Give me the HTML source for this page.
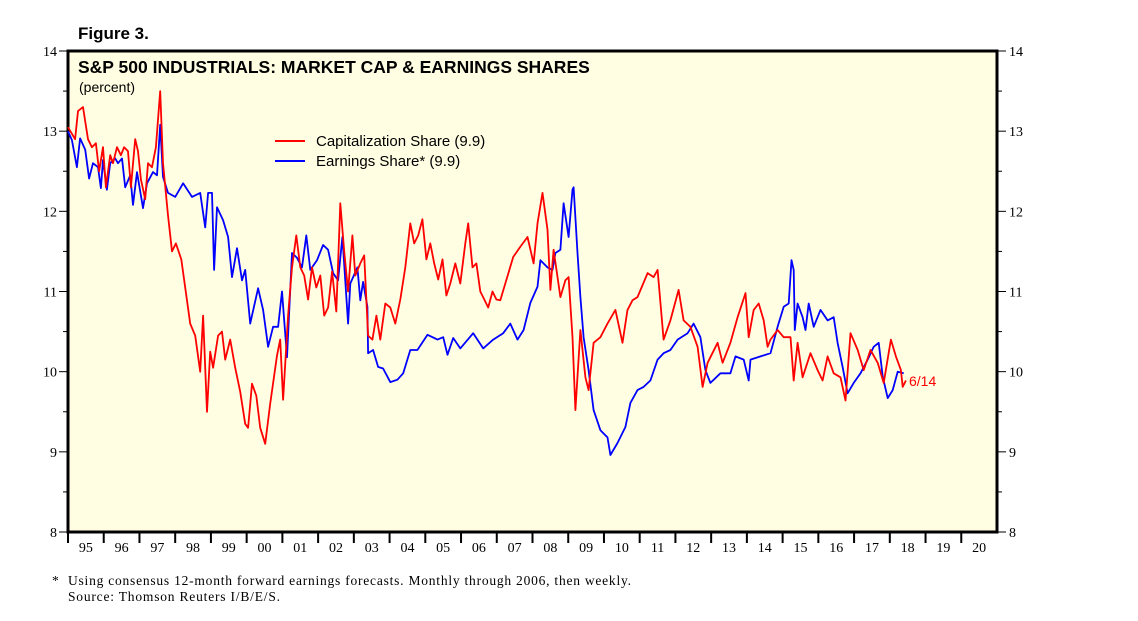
<!DOCTYPE html>
<html><head><meta charset="utf-8"><style>
body{margin:0;background:#fff;width:1138px;height:621px;overflow:hidden}
svg{display:block}
</style></head><body>
<svg id="chart" width="1138" height="621" xmlns="http://www.w3.org/2000/svg">
<text x="78" y="39" font-family="Liberation Sans, sans-serif" font-weight="bold" font-size="17">Figure 3.</text>
<rect x="68" y="51" width="929" height="481" fill="#fffee3" stroke="#000" stroke-width="3"/>
<text x="78" y="73" font-family="Liberation Sans, sans-serif" font-weight="bold" font-size="17.5">S&amp;P 500 INDUSTRIALS: MARKET CAP &amp; EARNINGS SHARES</text>
<text x="79" y="92" font-family="Liberation Sans, sans-serif" font-size="14">(percent)</text>
<g>
<line x1="275" y1="141" x2="305" y2="141" stroke="#f00" stroke-width="2"/>
<text x="316" y="146" font-family="Liberation Sans, sans-serif" font-size="15">Capitalization Share (9.9)</text>
<line x1="275" y1="161" x2="305" y2="161" stroke="#00f" stroke-width="2"/>
<text x="316" y="166" font-family="Liberation Sans, sans-serif" font-size="15">Earnings Share* (9.9)</text>
</g>
<g id="axes"></g>
<g id="series"></g>
<text x="909" y="386" fill="#f00" font-family="Liberation Sans, sans-serif" font-size="14">6/14</text>
<text x="52" y="585" font-family="Liberation Serif, serif" font-size="13.5">*</text>
<text x="68" y="585" font-family="Liberation Serif, serif" font-size="13.5" textLength="563" lengthAdjust="spacing">Using consensus 12-month forward earnings forecasts. Monthly through 2006, then weekly.</text>
<text x="68" y="601" font-family="Liberation Serif, serif" font-size="13.5" textLength="212" lengthAdjust="spacing">Source: Thomson Reuters I/B/E/S.</text>
</svg>
<script>
const yTicks=[8,9,10,11,12,13,14];
const xYears=[95,96,97,98,99,"00","01","02","03","04","05","06","07","08","09",10,11,12,13,14,15,16,17,18,19,20];
const capT=[0,.20,.28,.42,.56,.67,.78,.87,.98,1.06,1.18,1.26,1.37,1.48,1.57,1.68,1.76,1.88,1.96,2.04,2.16,2.24,2.35,2.46,2.58,2.66,2.80,2.91,3.02,3.17,3.28,3.42,3.56,3.70,3.78,3.89,3.98,4.06,4.20,4.31,4.40,4.54,4.68,4.82,4.96,5.04,5.15,5.27,5.38,5.52,5.66,5.85,5.94,6.02,6.16,6.27,6.39,6.50,6.61,6.72,6.83,6.95,7.06,7.17,7.28,7.39,7.51,7.62,7.73,7.84,7.96,8.04,8.18,8.29,8.40,8.52,8.63,8.74,8.88,9.02,9.16,9.30,9.44,9.58,9.69,9.80,9.92,10.03,10.14,10.25,10.36,10.48,10.59,10.70,10.84,10.98,11.12,11.20,11.32,11.43,11.54,11.65,11.76,11.88,11.99,12.10,12.46,12.66,12.86,13.03,13.14,13.28,13.42,13.50,13.59,13.78,13.92,14.01,14.12,14.20,14.34,14.48,14.57,14.71,14.90,15.10,15.32,15.52,15.66,15.80,15.94,16.22,16.39,16.50,16.67,16.86,17.09,17.23,17.42,17.62,17.76,17.90,18.18,18.32,18.54,18.74,18.96,19.05,19.19,19.33,19.47,19.58,19.66,19.86,20.03,20.22,20.31,20.42,20.56,20.78,20.98,21.12,21.26,21.43,21.62,21.76,21.90,22.10,22.27,22.46,22.66,22.83,23.03,23.17,23.31,23.36,23.45];
const capVals=[13.05,12.9,13.25,13.3,12.9,12.8,12.85,12.5,12.8,12.3,12.7,12.6,12.8,12.7,12.8,12.75,12.3,12.9,12.75,12.4,12.15,12.6,12.55,12.8,13.5,12.6,11.95,11.5,11.6,11.4,11.05,10.6,10.45,10.0,10.7,9.5,10.25,10.05,10.45,10.5,10.15,10.4,10.05,9.75,9.35,9.3,9.85,9.7,9.3,9.1,9.6,10.2,10.4,9.65,10.7,11.3,11.7,11.3,11.2,10.9,11.3,11.05,11.2,10.7,10.8,11.25,10.75,12.1,11.5,11.0,11.7,11.2,11.35,11.45,10.45,10.4,10.7,10.4,10.85,10.8,10.6,10.9,11.3,11.85,11.6,11.7,11.9,11.4,11.6,11.35,11.15,11.4,10.95,11.1,11.35,11.1,11.6,11.85,11.3,11.35,11.0,10.9,10.8,11.0,10.9,10.89,11.43,11.56,11.68,11.35,11.85,12.23,11.77,11.02,11.52,10.93,11.14,11.18,10.43,9.52,10.52,9.93,9.77,10.36,10.43,10.6,10.77,10.36,10.77,10.89,10.93,11.23,11.18,11.27,10.4,10.64,11.02,10.64,10.56,10.31,9.81,10.11,10.36,10.11,10.36,10.68,10.98,10.43,10.77,10.85,10.64,10.31,10.4,10.52,10.43,10.43,9.89,10.36,9.93,10.23,10.02,9.89,10.19,9.98,9.93,9.64,10.48,10.27,10.02,10.27,10.11,9.86,10.4,10.19,10.02,9.81,9.89];
const earnT=[0,.11,.25,.34,.48,.59,.70,.84,.92,.98,1.09,1.18,1.32,1.40,1.51,1.60,1.74,1.82,1.93,2.10,2.21,2.38,2.49,2.58,2.66,2.80,3.00,3.22,3.47,3.70,3.84,3.92,4.03,4.09,4.17,4.34,4.48,4.59,4.73,4.87,4.96,5.10,5.32,5.46,5.60,5.74,5.88,5.99,6.13,6.27,6.41,6.55,6.67,6.78,6.97,7.14,7.28,7.42,7.56,7.68,7.84,7.90,8.10,8.18,8.26,8.38,8.40,8.54,8.68,8.82,9.02,9.22,9.38,9.58,9.78,10.06,10.34,10.50,10.62,10.78,10.98,11.34,11.62,11.90,12.18,12.38,12.58,12.75,12.94,13.14,13.22,13.42,13.56,13.64,13.78,13.87,14.01,14.12,14.15,14.26,14.34,14.43,14.57,14.71,14.90,15.10,15.18,15.38,15.60,15.74,15.94,16.11,16.30,16.50,16.67,16.86,17.06,17.34,17.51,17.70,17.84,17.98,18.26,18.54,18.68,18.91,19.05,19.10,19.38,19.66,19.86,20.03,20.17,20.25,20.31,20.34,20.42,20.56,20.64,20.73,20.87,21.06,21.26,21.43,21.54,21.68,21.82,21.99,22.18,22.38,22.55,22.69,22.80,22.94,23.08,23.22,23.39];
const earnVals=[13.0,12.89,12.55,12.91,12.77,12.41,12.6,12.55,12.29,12.64,12.27,12.6,12.66,12.6,12.66,12.3,12.45,12.08,12.49,12.04,12.35,12.49,12.45,13.08,12.43,12.23,12.18,12.35,12.18,12.23,11.8,12.23,12.23,11.27,12.05,11.89,11.68,11.18,11.54,11.14,11.27,10.6,11.04,10.77,10.31,10.56,10.56,11.0,10.18,11.48,11.42,11.3,11.7,11.27,11.39,11.58,11.52,11.23,11.14,11.68,10.6,11.1,11.3,10.89,11.12,10.81,10.23,10.27,10.06,10.04,9.87,9.9,9.98,10.27,10.27,10.46,10.4,10.43,10.21,10.42,10.29,10.48,10.29,10.4,10.48,10.6,10.4,10.52,10.86,11.06,11.39,11.3,11.27,11.48,11.52,12.1,11.68,12.27,12.3,11.48,10.93,10.43,10.02,9.52,9.27,9.18,8.96,9.11,9.31,9.61,9.77,9.81,9.89,10.15,10.23,10.27,10.4,10.48,10.6,10.43,10.02,9.86,9.98,9.98,10.19,10.15,9.89,10.15,10.19,10.23,10.56,10.81,10.85,11.39,11.27,10.52,10.85,10.68,10.52,10.85,10.56,10.77,10.64,10.68,10.36,10.06,9.73,9.86,9.98,10.15,10.31,10.36,9.94,9.67,9.77,10.0,9.98];
const NS="http://www.w3.org/2000/svg";
const L=68,R=997,T=51,B=532;
const yS=v=>B-(v-8)/(14-8)*(B-T);
const xS=t=>L+t/26*(R-L);
const axes=document.getElementById('axes'),ser=document.getElementById('series');
function mk(tag,attrs,parent){const e=document.createElementNS(NS,tag);for(const k in attrs)e.setAttribute(k,attrs[k]);parent.appendChild(e);return e;}
yTicks.forEach((v,i)=>{
  const y=yS(v);
  const a=mk('line',{x1:L-9,x2:L,y1:y,y2:y,stroke:'#000','stroke-width':1},axes);
  
  
  const b=mk('line',{x1:R,x2:R+9,y1:y,y2:y,stroke:'#000','stroke-width':1},axes);
  
  
  if(i<yTicks.length-1){
    const ym=yS(v+0.5);
    const m1=mk('line',{x1:L-5,x2:L,y1:ym,y2:ym,stroke:'#000','stroke-width':1},axes);
    
    
    const m2=mk('line',{x1:R,x2:R+5,y1:ym,y2:ym,stroke:'#000','stroke-width':1},axes);
    
    
  }
  const t1=mk('text',{x:L-11,y:y+5,'text-anchor':'end','font-family':'Liberation Serif, serif','font-size':14},axes);
  t1.textContent=v;
  
  
  const t2=mk('text',{x:R+12,y:y+5,'font-family':'Liberation Serif, serif','font-size':14},axes);
  t2.textContent=v;
  
  
});
xYears.forEach((lab,i)=>{
  const tk=mk('line',{x1:xS(i),x2:xS(i),y1:B,y2:B+11,stroke:'#000','stroke-width':2},axes);
  
  
  const t=mk('text',{x:xS(i+0.5),y:B+20,'text-anchor':'middle','font-family':'Liberation Serif, serif','font-size':14},axes);
  t.textContent=lab;
  
  
});
function line(ts,vs,color,name){
  const d=ts.map((t,i)=>(i?'L':'M')+xS(t).toFixed(1)+','+yS(vs[i]).toFixed(1)).join('');
  const p=mk('path',{d:d,fill:'none',stroke:color,'stroke-width':1.8,'stroke-linejoin':'round'},ser);
  
  
}
line(earnT,earnVals,'#0000ff','earnings-share-line');
line(capT,capVals,'#ff0000','capitalization-share-line');
</script>
</body></html>
